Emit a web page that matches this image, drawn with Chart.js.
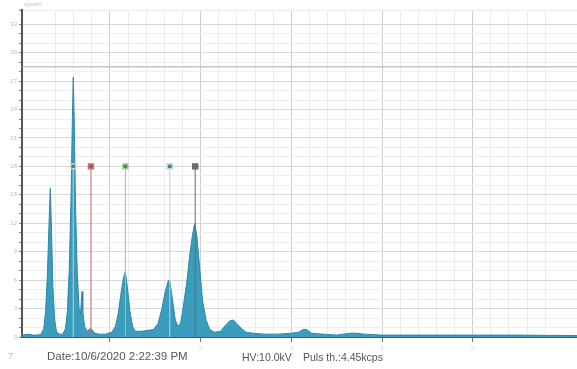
<!DOCTYPE html>
<html>
<head>
<meta charset="utf-8">
<script src="https://cdn.jsdelivr.net/npm/chart.js@4"></script>
<style>
  body { margin: 0; background: #fff; }
  #wrap { position: relative; width: 577px; height: 369px; }
  .note { position: absolute; font-family: "Liberation Sans", Arial, sans-serif; color: #555; white-space: nowrap; }
</style>
</head>
<body>
<div id="wrap">
  <canvas id="spectrum" width="577" height="369"></canvas>
  <div class="note" style="left:24px;top:1px;font-size:6px;color:#bbb;">cps/eV</div>
  <div class="note" style="left:8px;top:351px;font-size:9px;color:#bbb;">7</div>
  <div class="note" style="left:47px;top:350px;font-size:11.5px;">Date:10/6/2020 2:22:39 PM</div>
  <div class="note" style="left:242px;top:351px;font-size:10.5px;">HV:10.0kV</div>
  <div class="note" style="left:303px;top:351px;font-size:10.5px;">Puls th.:4.45kcps</div>
</div>
<script>
// energy axis (keV) and counts
var energy = [0.03, 0.10, 0.15, 0.20, 0.24, 0.27, 0.29, 0.31, 0.33, 0.342, 0.355, 0.37, 0.39, 0.41, 0.44, 0.48,
  0.51, 0.53, 0.55, 0.57, 0.585, 0.595, 0.605, 0.62, 0.64, 0.66, 0.675, 0.685, 0.692, 0.70, 0.72, 0.75,
  0.78, 0.80, 0.83, 0.88, 0.95, 1.02, 1.06, 1.09, 1.12, 1.15, 1.17, 1.19, 1.22, 1.25, 1.28, 1.35,
  1.42, 1.48, 1.53, 1.57, 1.61, 1.645, 1.66, 1.69, 1.72, 1.75, 1.78, 1.81, 1.85, 1.88, 1.91, 1.935,
  1.96, 1.99, 2.02, 2.06, 2.10, 2.15, 2.22, 2.27, 2.32, 2.36, 2.40, 2.45, 2.50, 2.58, 2.70, 2.85,
  3.00, 3.08, 3.13, 3.17, 3.22, 3.35, 3.50, 3.65, 3.72, 3.80, 4.00, 4.30, 4.60, 5.00, 5.50, 6.15];
var counts = [0.2, 0.3, 0.2, 0.2, 0.3, 0.9, 2.7, 6.6, 12.6, 15.7, 11.4, 5.4, 1.8, 0.6, 0.3, 0.3,
  0.9, 2.7, 6.9, 14.4, 22.8, 27.4, 23.4, 13.8, 6.6, 3.0, 2.4, 3.9, 4.8, 2.7, 1.1, 0.6,
  0.9, 0.8, 0.4, 0.3, 0.3, 0.5, 1.1, 2.4, 4.5, 6.3, 6.9, 5.4, 2.7, 1.1, 0.6, 0.6,
  0.7, 0.8, 1.4, 2.9, 4.8, 6.0, 5.9, 3.9, 1.8, 1.1, 1.5, 3.3, 6.0, 8.7, 10.8, 12.0,
  10.5, 7.2, 3.9, 1.8, 0.8, 0.5, 0.6, 1.2, 1.7, 1.8, 1.4, 0.9, 0.5, 0.4, 0.3, 0.3,
  0.4, 0.5, 0.8, 0.8, 0.4, 0.3, 0.2, 0.4, 0.4, 0.3, 0.2, 0.2, 0.2, 0.2, 0.2, 0.15];

// element marker lines (keV), their height and colours
var markerEnergy = [0.595, 0.79, 1.17, 1.66, 1.94];
var markerTop = 18;
var markerColor = ['#b8d8d8', '#c9716e', '#8fd08f', '#a6dce4', '#6b6b6b'];

var levelLine = 28.5;

var spectrumPoints = energy.map(function (e, i) { return { x: e, y: counts[i] }; });

function isMajor(v, step) {
    var r = v / step;
    return Math.abs(r - Math.round(r)) < 1e-6;
}

var datasets = [];

markerEnergy.forEach(function (e, i) {
    datasets.push({
        data: [{ x: e, y: 0 }, { x: e, y: markerTop }],
        borderColor: markerColor[i],
        borderWidth: 1,
        pointStyle: 'rect',
        pointRadius: [0, 3.5],
        pointBackgroundColor: '#7a6a6a',
        pointBorderColor: markerColor[i],
        pointBorderWidth: 1.5,
        order: 1
    });
});

datasets.push({
    data: [{ x: 0.03, y: levelLine }, { x: 6.15, y: levelLine }],
    borderColor: '#a8a8a8',
    borderWidth: 1,
    pointRadius: 0,
    order: 3
});

datasets.push({
    data: spectrumPoints,
    borderColor: '#2f86a8',
    borderWidth: 1,
    backgroundColor: '#3a9dbe',
    fill: 'origin',
    pointRadius: 0,
    tension: 0,
    order: 2
});

var ctx = document.getElementById('spectrum').getContext('2d');
var chart = new Chart(ctx, {
    type: 'line',
    data: { datasets: datasets },
    options: {
        responsive: false,
        animation: false,
        // no extra room for the marker points, the plot runs to the right edge
        layout: { autoPadding: false, padding: { top: 10, right: 0, left: 0, bottom: 0 } },
        plugins: { legend: { display: false }, tooltip: { enabled: false } },
        scales: {
            x: {
                type: 'linear',
                min: 0.03,
                max: 6.15,
                afterFit: function (s) { s.height = 32; s.paddingRight = 0; s.paddingLeft = 0; },
                border: { color: '#555', width: 2 },
                grid: {
                    color: function (c) { return c.tick && isMajor(c.tick.value, 1) ? '#cfcfcf' : '#ececec'; },
                    tickColor: function (c) { return c.tick && isMajor(c.tick.value, 1) ? '#777' : 'rgba(0,0,0,0)'; },
                    tickLength: 5
                },
                ticks: {
                    stepSize: 0.2,
                    autoSkip: false,
                    maxRotation: 0,
                    color: '#e0e0e0',
                    font: { size: 7 },
                    callback: function (v) { return isMajor(v, 1) ? Math.round(v) : ''; }
                }
            },
            y: {
                min: 0,
                max: 34.5,
                afterFit: function (s) { s.width = 22; s.paddingTop = 0; s.paddingBottom = 0; },
                border: { color: '#555', width: 2 },
                grid: {
                    color: function (c) { return c.tick && isMajor(c.tick.value, 3) ? '#d8d8d8' : '#eeeeee'; },
                    tickColor: '#888',
                    tickLength: 3
                },
                ticks: {
                    stepSize: 1,
                    autoSkip: false,
                    padding: 2,
                    color: '#bbb',
                    font: { size: 6 },
                    callback: function (v) { return isMajor(v, 3) ? v : ''; }
                }
            }
        }
    }
});
</script>
</body>
</html>
